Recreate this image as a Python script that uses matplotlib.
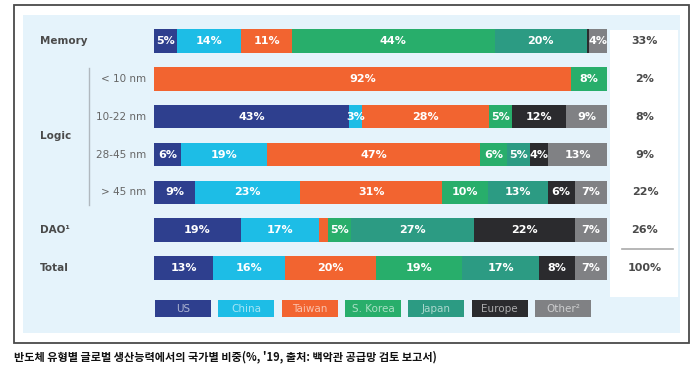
import numpy as np
import matplotlib.pyplot as plt
from matplotlib.patches import Rectangle

# data
rows = ["Memory", "< 10 nm", "10-22 nm", "28-45 nm", "> 45 nm", "DAO¹", "Total"]
countries = ["US", "China", "Taiwan", "S. Korea", "Japan", "Europe", "Other²"]
us = [5, 0, 43, 6, 9, 19, 13]
china = [14, 0, 3, 19, 23, 17, 16]
taiwan = [11, 92, 28, 47, 31, 2, 20]
korea = [44, 8, 5, 6, 10, 5, 19]
japan = [20, 0, 0, 5, 13, 27, 17]
europe = [0.4, 0, 12, 4, 6, 22, 8]
other = [4, 0, 9, 13, 7, 7, 7]
share = ["33%", "2%", "8%", "9%", "22%", "26%", "100%"]

colors = ["#2E3F8E", "#1DBDE6", "#F26430", "#28AE6B", "#2C9B83", "#2B2B2E", "#808184"]

W, H = 700, 377
fig = plt.figure(figsize=(7, 3.77), dpi=100)
fig.patch.set_facecolor("white")

def px_rect(x0, y0, x1, y1, **kw):
    # rectangle given in pixel coords (top-left origin)
    fig.patches.append(Rectangle((x0 / W, 1 - y1 / H), (x1 - x0) / W, (y1 - y0) / H,
                                 transform=fig.transFigure, zorder=-10, **kw))

px_rect(14, 5, 689, 343, facecolor="white", edgecolor="#4a4a4a", linewidth=1.3)
px_rect(23, 15, 680, 333, facecolor="#E5F3FB", edgecolor="none")
px_rect(610, 30, 678, 297, facecolor="white", edgecolor="none")

# bar axes: x 154..607 px, rows centered 41..268 px
top, bot = 41 - 18.9, 268 + 18.9
ax = fig.add_axes([154 / W, 1 - bot / H, 453 / W, (bot - top) / H])
ax.set_xlim(0, 100)
ax.set_ylim(6.5, -0.5)
ax.axis("off")
ax.patch.set_visible(False)

data = np.array([us, china, taiwan, korea, japan, europe, other], dtype=float)
vals = data / data.sum(axis=0) * 100
y = np.arange(len(rows))
left = np.zeros(len(rows))
for k in range(len(countries)):
    ax.barh(y, vals[k], left=left, height=0.62, color=colors[k], linewidth=0)
    for i in range(len(rows)):
        if data[k, i] >= 3:
            ax.text(left[i] + vals[k, i] / 2, y[i], f"{int(data[k, i])}%",
                    ha="center", va="center", color="white",
                    fontsize=8, fontweight="bold")
    left += vals[k]

pxu = 100 / 453  # data units per pixel
def xpx(p):
    return (p - 154) * pxu

for i, name in enumerate(rows):
    if i in (0, 5, 6):
        ax.text(xpx(40), i, name, ha="left", va="center", fontsize=7.5,
                fontweight="bold", color="#4a4a4a", clip_on=False)
    else:
        ax.text(xpx(146), i, name, ha="right", va="center", fontsize=7.5,
                color="#666666", clip_on=False)
    ax.text(xpx(645), i, share[i], ha="center", va="center", fontsize=8,
            fontweight="bold", color="#4a4a4a", clip_on=False)

ax.text(xpx(40), 2.5, "Logic", ha="left", va="center", fontsize=7.5,
        fontweight="bold", color="#4a4a4a", clip_on=False)
ax.plot([xpx(89), xpx(89)], [0.71, 4.34], color="#b0b8bf", lw=1, clip_on=False)
ax.plot([xpx(622), xpx(673)], [5.5, 5.5], color="#aaaaaa", lw=1.2, clip_on=False)

# legend boxes
lw_ = 56 / 63.5
lax = fig.add_axes([155 / W, 1 - 317 / H, 436 / W, 17 / H])
lax.set_xlim(-lw_ / 2, 6 + lw_ / 2)
lax.set_ylim(0, 1)
lax.axis("off")
lax.bar(np.arange(7), 1, width=lw_, bottom=0, color=colors, linewidth=0)
for i, c in enumerate(countries):
    lax.text(i, 0.5, c, ha="center", va="center", fontsize=7.5,
             color="white", alpha=0.6)

fig.text(14 / W, 1 - 357 / H, "반도체 유형별 글로벌 생산능력에서의 국가별 비중(%, '19, 출처: 백악관 공급망 검토 보고서)",
         ha="left", va="center", fontsize=8, fontweight="bold", color="#111111",
         family=["Noto Sans CJK KR", "DejaVu Sans"])

fig.savefig("out.png", dpi=100)
